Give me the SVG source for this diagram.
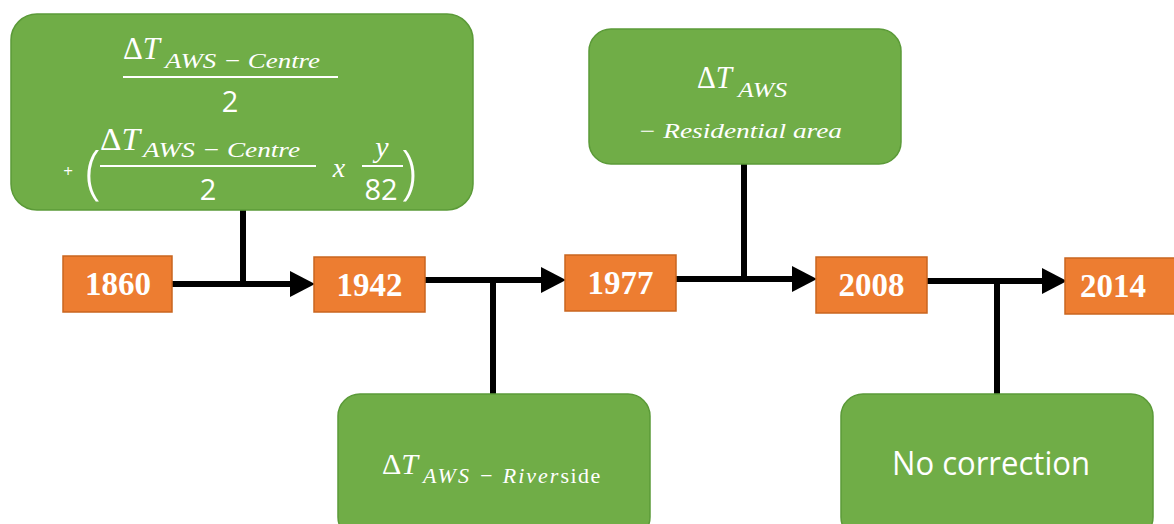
<svg xmlns="http://www.w3.org/2000/svg" width="1174" height="524" viewBox="0 0 1174 524">
<style>
.g{fill:#70AD47;stroke:#5B9A38;stroke-width:1.5}
.o{fill:#ED7D31;stroke:#C9651F;stroke-width:1.5}
.yr{font-family:"Liberation Serif",serif;font-weight:bold;font-size:33px;fill:#fff;text-anchor:middle}
.m{font-family:"Liberation Serif",serif;font-style:italic;fill:#fff}
.s{font-family:"Open Sans","Liberation Sans",sans-serif;fill:#fff}
.c{stroke:#000;stroke-width:6;fill:none}
.fl{stroke:#fff;stroke-width:2}
</style>
<defs>
<marker id="ah" markerUnits="userSpaceOnUse" markerWidth="26" markerHeight="26" refX="0" refY="13" orient="auto">
<path d="M0,0 L25,13 L0,26 z" fill="#000"/>
</marker>
</defs>
<g id="connectors">
<path class="c" d="M172,284 H290" marker-end="url(#ah)"/>
<path class="c" d="M243,210 V287"/>
<path class="c" d="M425,280 H541" marker-end="url(#ah)"/>
<path class="c" d="M493,277 V395"/>
<path class="c" d="M676,279 H792" marker-end="url(#ah)"/>
<path class="c" d="M744,163 V282"/>
<path class="c" d="M927,281 H1042" marker-end="url(#ah)"/>
<path class="c" d="M997,278 V395"/>
</g>
<g id="n1860"><rect class="o" x="63" y="256" width="109" height="56"/><text class="yr" x="118" y="295">1860</text></g>
<g id="n1942"><rect class="o" x="314" y="257" width="111" height="55"/><text class="yr" x="369.5" y="296">1942</text></g>
<g id="n1977"><rect class="o" x="565" y="255" width="111" height="56"/><text class="yr" x="620.5" y="294">1977</text></g>
<g id="n2008"><rect class="o" x="816" y="257" width="111" height="56"/><text class="yr" x="871.5" y="296">2008</text></g>
<g id="n2014"><rect class="o" x="1065" y="258" width="112" height="56"/><text class="yr" x="1113" y="297">2014</text></g>
<g id="formula1">
<rect class="g" x="11" y="14" width="462" height="196" rx="26"/>
<text class="m" x="123" y="59" font-size="32" textLength="37" lengthAdjust="spacingAndGlyphs"><tspan font-style="normal">Δ</tspan>T</text>
<text class="m" x="165" y="68" font-size="22" textLength="155" lengthAdjust="spacingAndGlyphs">AWS − Centre</text>
<line class="fl" x1="123" y1="77" x2="338" y2="77"/>
<text class="s" x="230" y="112" font-size="29" text-anchor="middle">2</text>
<text class="s" x="68" y="177" font-size="17" text-anchor="middle">+</text>
<text class="s" x="93" y="192" font-size="58" text-anchor="middle" font-weight="300">(</text>
<text class="m" x="100" y="150" font-size="32" textLength="40" lengthAdjust="spacingAndGlyphs"><tspan font-style="normal">Δ</tspan>T</text>
<text class="m" x="143" y="157" font-size="22" textLength="157" lengthAdjust="spacingAndGlyphs">AWS − Centre</text>
<line class="fl" x1="100" y1="166" x2="316" y2="166"/>
<text class="s" x="208" y="200" font-size="29" text-anchor="middle">2</text>
<text class="m" x="339" y="177" font-size="28" text-anchor="middle">x</text>
<text class="m" x="382" y="157" font-size="30" text-anchor="middle">y</text>
<line class="fl" x1="362" y1="166" x2="403" y2="166"/>
<text class="s" x="381" y="200" font-size="29" text-anchor="middle">82</text>
<text class="s" x="409" y="192" font-size="58" text-anchor="middle" font-weight="300">)</text>
</g>
<g id="residential">
<rect class="g" x="589" y="29" width="312" height="135" rx="22"/>
<text class="m" x="697" y="88" font-size="32" textLength="35" lengthAdjust="spacingAndGlyphs"><tspan font-style="normal">Δ</tspan>T</text>
<text class="m" x="738" y="97" font-size="22" textLength="49" lengthAdjust="spacingAndGlyphs">AWS</text>
<text class="m" x="638" y="138" font-size="21" textLength="204" lengthAdjust="spacingAndGlyphs">−  Residential area</text>
</g>
<g id="riverside">
<rect class="g" x="338" y="394" width="312" height="145" rx="22"/>
<text class="m" font-size="22"><tspan x="382" y="474" font-size="30" font-style="normal">Δ</tspan><tspan y="474" font-size="30">T</tspan><tspan x="423" y="483" letter-spacing="2">AWS −  River</tspan><tspan y="483" font-style="normal" letter-spacing="1.5">side</tspan></text>
</g>
<g id="nocorr">
<rect class="g" x="841" y="394" width="312" height="145" rx="22"/>
<text class="s" x="892" y="475" font-size="32" textLength="198" lengthAdjust="spacingAndGlyphs">No correction</text>
</g>
</svg>
